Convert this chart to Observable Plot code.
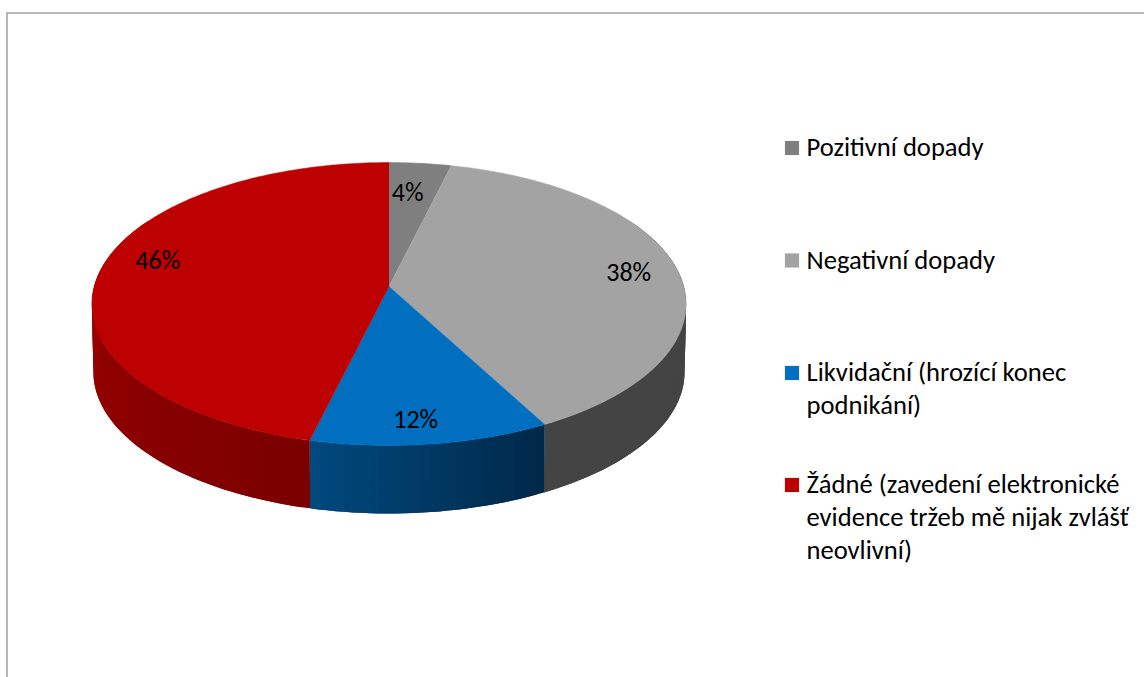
<!DOCTYPE html>
<html lang="cs">
<head>
<meta charset="utf-8">
<title>Dopady</title>
<script src="https://cdn.jsdelivr.net/npm/d3@7"></script>
<script src="https://cdn.jsdelivr.net/npm/@observablehq/plot@0.6"></script>
<style>html,body{margin:0;padding:0;background:#fff;overflow:hidden}svg{display:block}</style>
</head>
<body>
<div id="chart"></div>
<script>
// Data (shares estimated from the slice geometry; labels show them rounded)
const categories = ["Pozitivní dopady", "Negativní dopady", "Likvidační (hrozící konec podnikání)", "Žádné (zavedení elektronické evidence tržeb mě nijak zvlášť neovlivní)"];
const shares = [3.8, 38.4, 11.6, 46.2];
const legendLines = [
  ["Pozitivní dopady"],
  ["Negativní dopady"],
  ["Likvidační (hrozící konec", "podnikání)"],
  ["Žádné (zavedení elektronické", "evidence tržeb mě nijak zvlášť", "neovlivní)"]
];

// Styles and layout
const topColors = ["#7f7f7f", "#a3a3a3", "#006fc0", "#bd0000"];
const wallStart = ["#444444", "#444444", "#002747", "#7a0000"];
const wallEnd = ["#444444", "#444444", "#004a7e", "#a60000"];
const W = 1144, H = 677;
const cx = 388.5, cy = 286, a = 294.8, b = 139.3, k = 0.1237, depth = 68, bottomScale = 0.995;
const labelRadius = [0.74, 0.83, 0.86, 0.825];
const labelTurn = [-1.5, 0, 1.8, 6.5];
const legendRowY = [147, 259.5, 372, 484];
const legendLineGap = 33;
const legendSwatchX = 791.5, legendTextX = 806;
const fontFamily = "Carlito, Calibri, Lato, sans-serif";

// Perspective projection of the pie disc
const project = (deg, r = 1, drop = 0) => {
  const t = deg * Math.PI / 180, u = r * Math.sin(t), v = -r * Math.cos(t), d = 1 - k * v;
  const s = drop ? bottomScale : 1;
  return {x: cx + s * a * u / d, y: cy + b * v / d + drop};
};

const cum = d3.cumsum(shares);
const spans = shares.map((s, i) => [(cum[i] - s) * 3.6, cum[i] * 3.6]);

// Top faces
const faces = [];
spans.forEach(([s, e], i) => {
  faces.push({...project(0, 0), id: i, color: topColors[i]});
  for (let t = s; t < e; t += 1) faces.push({...project(t), id: i, color: topColors[i]});
  faces.push({...project(e), id: i, color: topColors[i]});
});

// Side wall: narrow overlapping strips, shaded along each slice
const strips = [];
spans.forEach(([s, e], i) => {
  const lo = Math.max(s, 60), hi = Math.min(e, 300);
  if (lo >= hi) return;
  const shade = d3.interpolateRgb(wallStart[i], wallEnd[i]);
  const n = Math.ceil((hi - lo) / 1.5);
  for (let j = 0; j < n; j++) {
    const t0 = lo + (hi - lo) * j / n;
    const t1 = Math.min(hi, lo + (hi - lo) * (j + 2) / n);
    const id = `${i}-${j}`;
    const color = d3.color(shade((j + .5) / n)).formatHex();
    [project(t0), project((t0 + t1) / 2), project(t1),
     project(t1, 1, depth), project((t0 + t1) / 2, 1, depth), project(t0, 1, depth)]
      .forEach(p => strips.push({...p, id, color}));
  }
});

// Percentage labels
const labels = shares.map((s, i) => {
  const mid = (spans[i][0] + spans[i][1]) / 2 + labelTurn[i];
  return {...project(mid, labelRadius[i]), text: Math.round(s) + "%"};
});

// Legend
const legendText = legendLines.flatMap((lines, i) =>
  lines.map((text, j) => ({x: legendTextX, y: legendRowY[i] + j * legendLineGap, text})));
const legendSwatches = legendLines.map((_, i) => ({x: legendSwatchX, y: legendRowY[i] + .5, color: topColors[i]}));

const chart = Plot.plot({
  width: W, height: H, margin: 0,
  style: {background: "#fff", fontFamily},
  x: {domain: [0, W], range: [0, W], axis: null},
  y: {domain: [0, H], range: [0, H], axis: null},
  color: {type: "identity"},
  marks: [
    Plot.ruleY([12.5], {x1: 6.5, x2: W, stroke: "#a0a0a0", strokeWidth: 1.5}),
    Plot.ruleX([6.5], {y1: 12.5, y2: H, stroke: "#a0a0a0", strokeWidth: 1.5}),
    Plot.line(strips, {x: "x", y: "y", z: "id", fill: "color", stroke: "none", curve: "linear"}),
    Plot.line(faces, {x: "x", y: "y", z: "id", fill: "color", stroke: "color", strokeWidth: 0.5, curve: "linear"}),
    Plot.text(labels, {x: "x", y: "y", text: "text", fontSize: 26, fill: "#000"}),
    Plot.dot(legendSwatches, {x: "x", y: "y", symbol: "square", r: 8, fill: "color", stroke: "none"}),
    Plot.text(legendText, {x: "x", y: "y", text: "text", textAnchor: "start", fontSize: 26.6, fill: "#000"})
  ]
});
document.getElementById("chart").append(chart);
</script>
</body>
</html>
